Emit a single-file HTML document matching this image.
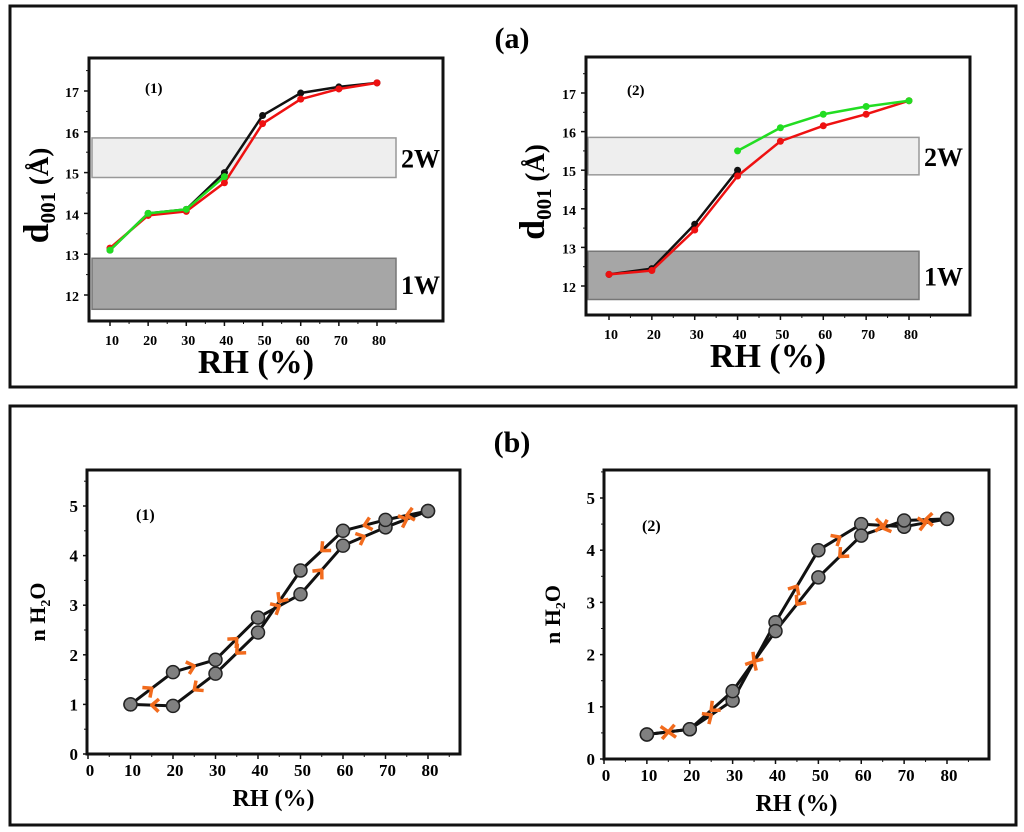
<!DOCTYPE html>
<html><head><meta charset="utf-8"><style>
html,body{margin:0;padding:0;background:#fff;}
svg{display:block;font-family:"Liberation Serif",serif;font-weight:bold;}
</style></head><body>
<svg id="fig" width="1024" height="832" viewBox="0 0 1024 832">
<rect x="10" y="6" width="1006" height="381" fill="none" stroke="#111" stroke-width="3"/>
<rect x="10" y="406" width="1006" height="419" fill="none" stroke="#111" stroke-width="3"/>
<text x="512" y="48" font-size="30" text-anchor="middle">(a)</text>
<text x="512" y="452" font-size="30" text-anchor="middle">(b)</text>
<g id="plots"></g>
</svg>
<script>
const rhX = [10,20,30,40,50,60,70,80];
const a1Black = [13.1,14.0,14.1,15.0,16.4,16.95,17.1,17.2];
const a1Red = [13.15,13.95,14.05,14.75,16.2,16.8,17.05,17.2];
const a1GreenX = [10,20,30,40];
const a1Green = [13.1,14.0,14.1,14.9];
const a2Red = [12.3,12.4,13.45,14.85,15.75,16.15,16.45,16.8];
const a2BlackX = [10,20,30,40];
const a2Black = [12.3,12.45,13.6,15.0];
const a2GreenX = [40,50,60,70,80];
const a2Green = [15.5,16.1,16.45,16.65,16.8];
const b1Ads = [1.0,1.65,1.9,2.75,3.22,4.2,4.57,4.9];
const b1Des = [1.0,0.97,1.62,2.45,3.7,4.5,4.72,4.9];
const b2Ads = [0.47,0.57,1.12,2.62,4.0,4.5,4.45,4.6];
const b2Des = [0.47,0.57,1.3,2.45,3.48,4.28,4.57,4.6];
const aXTicks = ["10","20","30","40","50","60","70","80"];
const aYTicks = ["12","13","14","15","16","17"];
const bXTicks = ["0","10","20","30","40","50","60","70","80"];
const bYTicks = ["0","1","2","3","4","5"];

const NS="http://www.w3.org/2000/svg";
const root=document.getElementById('plots');
function mk(tag,attrs,parent){const e=document.createElementNS(NS,tag);for(const k in attrs)e.setAttribute(k,attrs[k]);(parent||root).appendChild(e);return e;}
function txt(s,attrs,parent){const e=mk('text',attrs,parent);e.textContent=s;return e;}

function makeScale(v0,p0,v1,p1){return v=>p0+(v-v0)*(p1-p0)/(v1-v0);}

function line(g,xs,ys,sx,sy,color,w,name){
  const pts=xs.map((x,i)=>sx(x)+','+sy(ys[i])).join(' ');
  const p=mk('polyline',{points:pts,fill:'none',stroke:color,'stroke-width':w,'stroke-linejoin':'round'},g);
  
  
}
function chevron(g,x1,y1,x2,y2,color,size,name){
  const mx=(x1+x2)/2,my=(y1+y2)/2,a=Math.atan2(y2-y1,x2-x1);
  const p=[[-size,-size*0.9],[0,0],[-size,size*0.9]].map(([u,v])=>[mx+u*Math.cos(a)-v*Math.sin(a),my+u*Math.sin(a)+v*Math.cos(a)]);
  const c=mk('polyline',{points:p.map(q=>q.join(',')).join(' '),fill:'none',stroke:color,'stroke-width':3.5,'stroke-linejoin':'round'},g);
  
  
}
function dots(g,xs,ys,sx,sy,color,r,name){
  xs.forEach((x,i)=>{const c=mk('circle',{cx:sx(x),cy:sy(ys[i]),r:r,fill:color,stroke:'#222','stroke-width':1.5},g);
  
  });
}

// ---------- panel a ----------
function panelA(cfg){
  const g=mk('g',{});
  
  
  const sx=makeScale(10,cfg.x10,80,cfg.x80), sy=makeScale(12,cfg.y12,17,cfg.y17);
  let b=mk('rect',{x:cfg.bx,y:sy(15.85),width:cfg.bw,height:sy(14.88)-sy(15.85),fill:'#eeeeee',stroke:'#999','stroke-width':1.5},g);
   
  b=mk('rect',{x:cfg.bx,y:sy(12.9),width:cfg.bw,height:sy(11.65)-sy(12.9),fill:'#a6a6a6',stroke:'#777','stroke-width':1.5},g);
   
  txt('2W',{x:cfg.bx+cfg.bw+5,y:(sy(15.85)+sy(14.88))/2+10,'font-size':26},g);
  txt('1W',{x:cfg.bx+cfg.bw+5,y:(sy(12.9)+sy(11.65))/2+10,'font-size':26},g);
  const box=mk('rect',{x:cfg.l,y:cfg.t,width:cfg.r-cfg.l,height:cfg.b-cfg.t,fill:'none',stroke:'#111','stroke-width':3},g);
   
  aXTicks.forEach((s,i)=>{const x=sx(+s);
    mk('line',{x1:x,y1:cfg.b,x2:x,y2:cfg.b+5,stroke:'#111','stroke-width':1.5},g);
    mk('line',{x1:x+(sx(20)-sx(10))/2,y1:cfg.b,x2:x+(sx(20)-sx(10))/2,y2:cfg.b+3,stroke:'#111','stroke-width':1},g);
    const t=txt(s,{x:x+2,y:cfg.b+24,'font-size':14,'text-anchor':'middle'},g);
     });
  aYTicks.forEach(s=>{const y=sy(+s);
    mk('line',{x1:cfg.l-5,y1:y,x2:cfg.l,y2:y,stroke:'#111','stroke-width':1.5},g);
    mk('line',{x1:cfg.l-3,y1:y-(sy(12)-sy(13))/2,x2:cfg.l,y2:y-(sy(12)-sy(13))/2,stroke:'#111','stroke-width':1},g);
    const t=txt(s,{x:cfg.l-10,y:y+6,'font-size':14,'text-anchor':'end'},g);
     });
  const yt=mk('text',{transform:`translate(${cfg.yl},${(cfg.t+cfg.b)/2+6}) rotate(-90)`,'font-size':36,'text-anchor':'middle'},g);
  yt.innerHTML='d<tspan font-size="21" dy="7">001</tspan><tspan dy="-7" font-size="27"> (Å)</tspan>';
   
  const xt=txt('RH (%)',{x:(cfg.l+cfg.r)/2-10,y:cfg.b+52,'font-size':34,'text-anchor':'middle'},g);
   
  const lb=txt(cfg.label,{x:cfg.lx,y:sy(17)+2,'font-size':15},g);
   
  cfg.series.forEach(s=>{
    line(g,s.x,s.y,sx,sy,s.c,2.5,s.n);
    s.x.forEach((x,i)=>{const c=mk('circle',{cx:sx(x),cy:sy(s.y[i]),r:3.5,fill:s.c},g);
       });
  });
}
panelA({name:'chart-a1',l:89,r:443,t:58,b:321,x10:110,x80:377,y12:295,y17:91,bx:92,bw:304,yl:48,lx:145,label:'(1)',
  series:[{x:rhX,y:a1Black,c:'#111',n:'a1-black-line'},{x:rhX,y:a1Red,c:'#ee1111',n:'a1-red-line'},{x:a1GreenX,y:a1Green,c:'#22dd22',n:'a1-green-line'}]});
panelA({name:'chart-a2',l:586,r:970,t:57,b:315,x10:609,x80:909,y12:286,y17:93,bx:588,bw:331,yl:544,lx:627,label:'(2)',
  series:[{x:a2BlackX,y:a2Black,c:'#111',n:'a2-black-line'},{x:rhX,y:a2Red,c:'#ee1111',n:'a2-red-line'},{x:a2GreenX,y:a2Green,c:'#22dd22',n:'a2-green-line'}]});

// ---------- panel b ----------
function panelB(cfg){
  const g=mk('g',{});
  
  
  const sx=makeScale(0,cfg.x0,80,cfg.x80), sy=makeScale(0,cfg.y0,5,cfg.y5);
  const box=mk('rect',{x:cfg.l,y:cfg.t,width:cfg.r-cfg.l,height:cfg.b-cfg.t,fill:'none',stroke:'#111','stroke-width':3},g);
   
  bXTicks.forEach(s=>{const x=sx(+s);
    mk('line',{x1:x,y1:cfg.b,x2:x,y2:cfg.b+5,stroke:'#111','stroke-width':1.5},g);
    mk('line',{x1:x+(sx(10)-sx(0))/2,y1:cfg.b,x2:x+(sx(10)-sx(0))/2,y2:cfg.b+3,stroke:'#111','stroke-width':1},g);
    const t=txt(s,{x:x+2,y:cfg.b+22,'font-size':17,'text-anchor':'middle'},g);
     });
  bYTicks.forEach(s=>{const y=sy(+s);
    mk('line',{x1:cfg.l-4,y1:y,x2:cfg.l,y2:y,stroke:'#111','stroke-width':1.5},g);
    mk('line',{x1:cfg.l-3,y1:y-(sy(0)-sy(1))/2,x2:cfg.l,y2:y-(sy(0)-sy(1))/2,stroke:'#111','stroke-width':1},g);
    const t=txt(s,{x:cfg.l-9,y:y+6,'font-size':17,'text-anchor':'end'},g);
     });
  const yt=mk('text',{transform:`translate(${cfg.yl},${(cfg.t+cfg.b)/2}) rotate(-90)`,'font-size':22,'text-anchor':'middle'},g);
  yt.innerHTML='n H<tspan font-size="14" dy="5">2</tspan><tspan dy="-5">O</tspan>';
   
  const xt=txt('RH (%)',{x:(cfg.l+cfg.r)/2,y:cfg.b+52,'font-size':24,'text-anchor':'middle'},g);
   
  const lb=txt(cfg.label,{x:cfg.lx,y:cfg.ly,'font-size':16},g);
   
  line(g,rhX,cfg.ads,sx,sy,'#111',3,'adsorption-line');
  line(g,rhX,cfg.des,sx,sy,'#111',3,'desorption-line');
  for(let i=0;i<rhX.length-1;i++){
    chevron(g,sx(rhX[i]),sy(cfg.ads[i]),sx(rhX[i+1]),sy(cfg.ads[i+1]),'#f26b1d',7,'adsorption-arrow');
    chevron(g,sx(rhX[i+1]),sy(cfg.des[i+1]),sx(rhX[i]),sy(cfg.des[i]),'#f26b1d',7,'desorption-arrow');
  }
  dots(g,rhX,cfg.ads,sx,sy,'#808080',6.5,'adsorption-point');
  dots(g,rhX,cfg.des,sx,sy,'#808080',6.5,'desorption-point');
}
panelB({name:'chart-b1',l:87,r:460,t:470,b:754,x0:88,x80:428,y0:754,y5:506,yl:45,lx:136,ly:520,label:'(1)',ads:b1Ads,des:b1Des});
panelB({name:'chart-b2',l:604,r:989,t:470,b:759,x0:604,x80:947,y0:759,y5:498,yl:560,lx:642,ly:531,label:'(2)',ads:b2Ads,des:b2Des});
</script>
</body></html>
